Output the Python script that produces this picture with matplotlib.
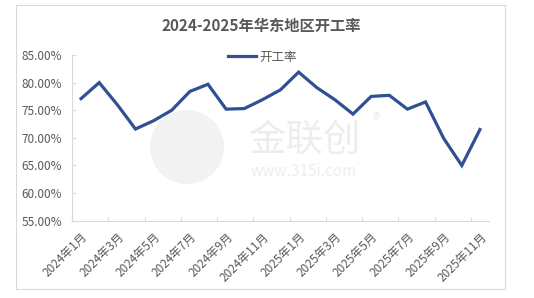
import matplotlib
matplotlib.use('Agg')
import matplotlib.pyplot as plt
from matplotlib.patches import Rectangle, Ellipse
from matplotlib.ticker import FixedLocator, FuncFormatter

plt.rcParams['font.family'] = ['Noto Sans CJK SC', 'DejaVu Sans']

# 数据 (2024年1月 - 2025年11月)
months = ['2024年1月', '2024年2月', '2024年3月', '2024年4月', '2024年5月', '2024年6月',
          '2024年7月', '2024年8月', '2024年9月', '2024年10月', '2024年11月', '2024年12月',
          '2025年1月', '2025年2月', '2025年3月', '2025年4月', '2025年5月', '2025年6月',
          '2025年7月', '2025年8月', '2025年9月', '2025年10月', '2025年11月']
rate = [77.1, 80.0, 76.0, 71.6, 73.1, 75.0, 78.4, 79.7, 75.2, 75.3, 76.9, 78.7,
        81.9, 79.1, 76.9, 74.3, 77.5, 77.7, 75.2, 76.5, 69.9, 65.0, 71.5]
series_name = '开工率'
title = '2024-2025年华东地区开工率'

W, H = 534, 298
fig = plt.figure(figsize=(W / 100, H / 100), dpi=100)

# 外框
fig.patches.append(Rectangle((16 / W, 1 - 289 / H), (505 - 16) / W, (289 - 4.5) / H,
                             transform=fig.transFigure, fill=False,
                             edgecolor='#d9d9d9', linewidth=0.8))

ax = fig.add_axes([72 / W, 1 - 220.7 / H, (489 - 72) / W, (220.7 - 55) / H])
ax.set_facecolor('none')

# 水印
fig.patches.append(Ellipse((187 / W, 1 - 147 / H), 74 / W, 74 / H, transform=fig.transFigure,
                           facecolor='#f2f2f2', edgecolor='none', zorder=0))
fig.text(305 / W, 1 - 140 / H, '金联创', fontsize=27, color='#ededed',
         ha='center', va='center', zorder=0)
fig.text(377 / W, 1 - 120 / H, '®', fontsize=12, color='#ededed',
         ha='center', va='center', zorder=0)
fig.text(304 / W, 1 - 171 / H, 'www.315i.com', fontsize=11, color='#ededed',
         ha='center', va='center', zorder=0)

x = list(range(len(months)))
ax.plot(x, rate, color='#2f5093', linewidth=2.3, label=series_name,
        solid_joinstyle='miter', zorder=3)

ax.set_xlim(-0.5, len(months) - 0.5)
ax.set_ylim(55, 85)
ax.set_yticks([55, 60, 65, 70, 75, 80, 85])
ax.yaxis.set_major_formatter(FuncFormatter(lambda v, p: '%.2f%%' % v))

# 类目轴: 刻度线在类目边界, 标签在类目中心
ax.xaxis.set_major_locator(FixedLocator([i - 0.5 for i in range(0, len(months), 2)]))
ax.xaxis.set_major_formatter(FuncFormatter(lambda v, p: ''))
ax.xaxis.set_minor_locator(FixedLocator(x[::2]))
ax.set_xticklabels(months[::2], minor=True, rotation=45, ha='right',
                   rotation_mode='anchor')

for s in ['top', 'right']:
    ax.spines[s].set_visible(False)
for s in ['left', 'bottom']:
    ax.spines[s].set_color('#d9d9d9')
    ax.spines[s].set_linewidth(0.8)

ax.tick_params(axis='x', which='major', direction='in', length=3, color='#d9d9d9')
ax.tick_params(axis='x', which='minor', length=0, pad=7, labelsize=8.5,
               labelcolor='#595959')
ax.tick_params(axis='y', direction='in', length=3, color='#d9d9d9', pad=7,
               labelsize=8.5, labelcolor='#595959')

fig.text(261 / W, 1 - 26 / H, title, fontsize=11, fontweight='bold',
         color='#595959', ha='center', va='center')

leg = ax.legend(loc='center', bbox_to_anchor=(262 / W, 1 - 57 / H),
                bbox_transform=fig.transFigure, frameon=False, fontsize=9,
                handlelength=2.3, handletextpad=0.2, borderaxespad=0)
for t in leg.get_texts():
    t.set_color('#595959')

fig.savefig('out.png', dpi=100)
